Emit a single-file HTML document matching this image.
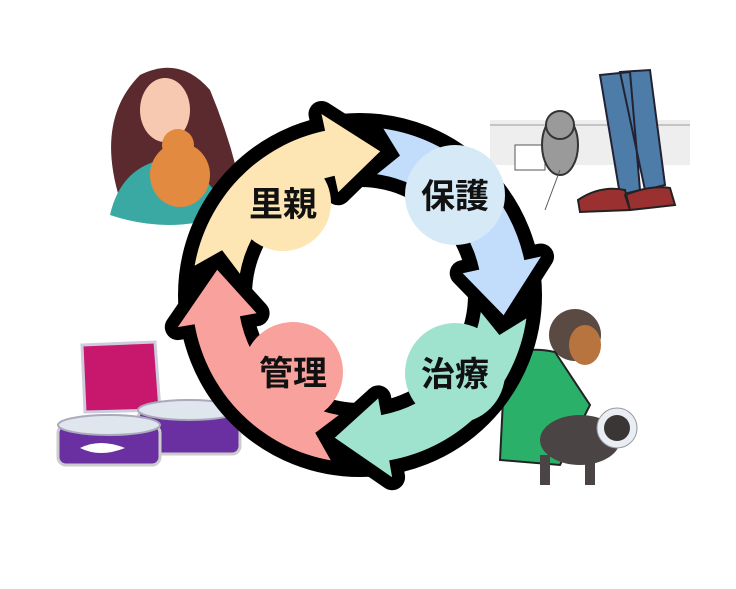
<!DOCTYPE html>
<html><head><meta charset="utf-8"><style>
html,body{margin:0;padding:0;background:#fff;}
body{width:736px;height:589px;overflow:hidden;position:relative;}
svg{position:absolute;left:0;top:0;}
text{font-family:"Liberation Sans","Noto Sans CJK JP",sans-serif;font-weight:bold;font-size:34px;fill:#111;}
</style></head><body>
<svg id="s" width="736" height="589" viewBox="0 0 736 589">
<g>
<rect x="490" y="120" width="200" height="45" fill="#eeeeee"/>
<line x1="490" y1="125" x2="690" y2="125" stroke="#999" stroke-width="1"/>
<rect x="515" y="145" width="30" height="25" fill="#fff" stroke="#555"/>
<ellipse cx="560" cy="145" rx="18" ry="30" fill="#9a9a9a" stroke="#333" stroke-width="2"/>
<circle cx="560" cy="125" r="14" fill="#9a9a9a" stroke="#333" stroke-width="2"/>
<path d="M600 75 L630 72 L640 190 L620 195 Z M620 72 L650 70 L665 185 L645 190 Z" fill="#4d7ca8" stroke="#223" stroke-width="2"/>
<path d="M578 200 Q600 185 625 190 L630 210 L580 212 Z M625 195 Q650 185 670 188 L675 205 L630 210 Z" fill="#9a3030" stroke="#222" stroke-width="2"/>
<line x1="545" y1="210" x2="560" y2="170" stroke="#555"/>
</g>
<g>
<path d="M120 200 Q95 120 140 75 Q180 55 210 90 Q235 150 245 210 Q200 235 120 200Z" fill="#5a2a2e"/>
<path d="M110 215 Q120 170 160 160 Q210 165 225 215 Q170 235 110 215Z" fill="#3aa9a4"/>
<ellipse cx="165" cy="110" rx="25" ry="32" fill="#f7c9b0"/>
<ellipse cx="180" cy="175" rx="30" ry="32" fill="#e28a3f"/>
<circle cx="178" cy="145" r="16" fill="#e28a3f"/>
</g>
<g>
<path d="M82 345 L155 342 L160 410 L85 412 Z" fill="#c8186d" stroke="#ccd" stroke-width="3"/>
<rect x="138" y="410" width="102" height="44" rx="8" fill="#6a2fa0" stroke="#ccc" stroke-width="3"/>
<ellipse cx="189" cy="410" rx="51" ry="10" fill="#dfe6ee" stroke="#aab" stroke-width="2"/>
<rect x="58" y="425" width="102" height="40" rx="8" fill="#6a2fa0" stroke="#ccc" stroke-width="3"/>
<ellipse cx="109" cy="425" rx="51" ry="10" fill="#dfe6ee" stroke="#aab" stroke-width="2"/>
<path d="M80 448 Q100 438 125 448 Q100 458 80 448Z" fill="#fff"/>
</g>
<g>
<circle cx="575" cy="335" r="26" fill="#5a4a42"/>
<ellipse cx="585" cy="345" rx="16" ry="20" fill="#b8743f"/>
<path d="M505 360 Q520 345 555 352 L590 405 L560 465 L500 460 Z" fill="#2bb06a" stroke="#222" stroke-width="2"/>
<ellipse cx="580" cy="440" rx="40" ry="25" fill="#4a4444"/>
<circle cx="617" cy="428" r="20" fill="#e8eef4" stroke="#999"/>
<circle cx="617" cy="428" r="13" fill="#3a3636"/>
<rect x="540" y="455" width="10" height="30" fill="#4a4444"/>
<rect x="585" y="455" width="10" height="30" fill="#4a4444"/>
</g>
<g id="ring"></g>
<circle cx="283" cy="203" r="48" fill="#fde5b4"/>
<circle cx="455" cy="195" r="50" fill="#d6e9f7"/>
<circle cx="455" cy="373" r="50" fill="#9fe3cf"/>
<circle cx="293" cy="372" r="50" fill="#f9a19c"/>
<text x="283" y="216" text-anchor="middle">里親</text>
<text x="455" y="208" text-anchor="middle">保護</text>
<text x="455" y="386" text-anchor="middle">治療</text>
<text x="293" y="385" text-anchor="middle">管理</text>
</svg>
<script>
var cx=360,cy=295,r1=122,r2=168,rm=145,R1=105,R2=185;
function P(r,a){a=a*Math.PI/180;return (cx+r*Math.cos(a)).toFixed(1)+","+(cy+r*Math.sin(a)).toFixed(1);}
function arrow(a0,a1){
 var h=a1-20,n=a0+8;
 return "M"+P(r2,a0)+" A"+r2+","+r2+" 0 0 1 "+P(r2,h)+" L"+P(R2,h)+" L"+P(rm,a1)+" L"+P(R1,h)+" L"+P(r1,h)+" A"+r1+","+r1+" 0 0 0 "+P(r1,a0)+" L"+P(rm,n)+" Z";}
var arr=[[190,278,"#fde5b4"],[278,8,"#c2dcfb"],[8,100,"#9fe3cf"],[100,190,"#f9a19c"]];
var g=document.getElementById("ring"),s="";
s+='<circle cx="'+cx+'" cy="'+cy+'" r="'+rm+'" fill="none" stroke="#000" stroke-width="74"/>';
arr.forEach(function(a){var e=a[1]<a[0]?a[1]+360:a[1];s+='<path d="'+arrow(a[0],e)+'" fill="#000" stroke="#000" stroke-width="26" stroke-linejoin="round"/>';});
arr.forEach(function(a){var e=a[1]<a[0]?a[1]+360:a[1];s+='<path d="'+arrow(a[0],e)+'" fill="'+a[2]+'"/>';});
g.innerHTML=s;
</script>
</body></html>
